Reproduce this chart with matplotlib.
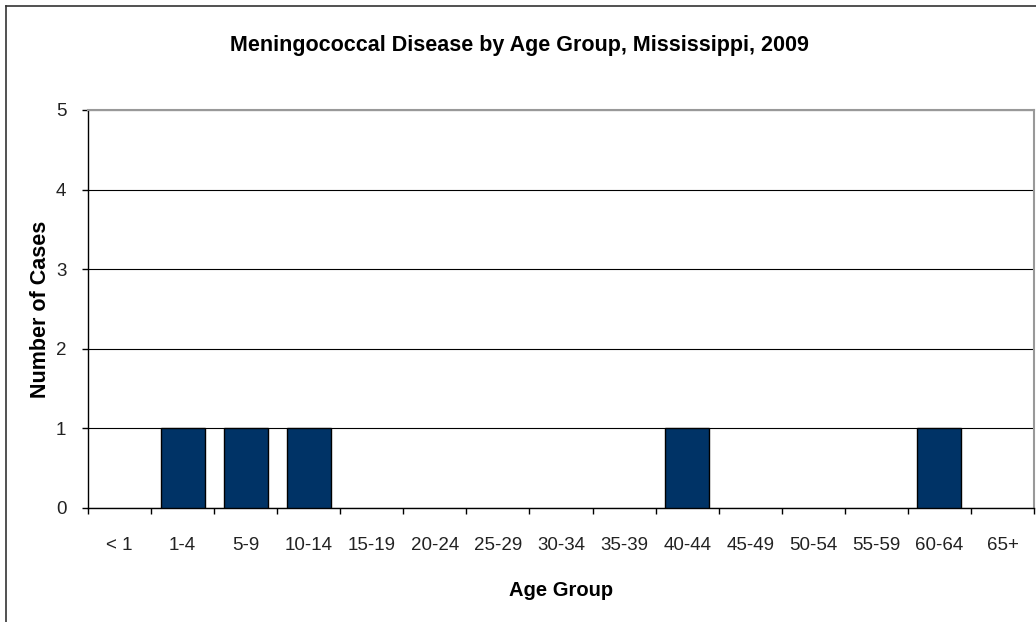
import matplotlib.pyplot as plt
from matplotlib.lines import Line2D

age_groups = ["< 1", "1-4", "5-9", "10-14", "15-19", "20-24", "25-29",
              "30-34", "35-39", "40-44", "45-49", "50-54", "55-59", "60-64", "65+"]
cases = [0, 1, 1, 1, 0, 0, 0, 0, 0, 1, 0, 0, 0, 1, 0]

plt.rcParams["font.family"] = ["Liberation Sans", "DejaVu Sans"]

fig = plt.figure(figsize=(10.36, 6.22), dpi=100)
ax = fig.add_axes([88 / 1036, 1 - 508 / 622, (1034 - 88) / 1036, (508 - 110) / 622])

# outer chart border (left and top visible in the reference)
fig.add_artist(Line2D([6 / 1036, 6 / 1036], [0, 1 - 6 / 622], transform=fig.transFigure,
                      color="#333333", lw=1.2))
fig.add_artist(Line2D([6 / 1036, 1], [1 - 6 / 622, 1 - 6 / 622], transform=fig.transFigure,
                      color="#333333", lw=1.2))

x = list(range(len(age_groups)))
ax.bar(x, cases, width=0.7, color="#003366", edgecolor="black",
       linewidth=[1 if c else 0 for c in cases], zorder=3)

ax.set_xlim(-0.5, len(age_groups) - 0.5)
ax.set_ylim(0, 5)
ax.set_yticks(range(6))
ax.yaxis.grid(True, color="black", lw=0.8, zorder=0)
ax.set_xticks(x)
ax.set_xticklabels(age_groups)
ax.set_xticks([i - 0.5 for i in range(len(age_groups) + 1)], minor=True)
ax.tick_params(axis="x", which="major", length=0, pad=21, labelsize=13.5, labelcolor="#222222")
ax.tick_params(axis="x", which="minor", length=4.5, width=1, direction="out")
ax.tick_params(axis="y", length=4.5, width=1, pad=11, labelsize=13.5, labelcolor="#222222")

for side in ["top", "right"]:
    ax.spines[side].set_color("#999999")
    ax.spines[side].set_linewidth(1.5)
for side in ["left", "bottom"]:
    ax.spines[side].set_color("black")
    ax.spines[side].set_linewidth(1)

ax.set_xlabel("Age Group", fontsize=14.5, fontweight="bold")
ax.xaxis.set_label_coords(0.5, (508 - 590) / 398)
ax.xaxis.label.set_va("center")
ax.set_ylabel("Number of Cases", fontsize=15.5, fontweight="bold")
ax.yaxis.set_label_coords((41 - 88) / 946, 0.5)
ax.yaxis.label.set_va("center")
fig.text(519 / 1036, 1 - 45 / 622,
         "Meningococcal Disease by Age Group, Mississippi, 2009",
         ha="center", va="center", fontsize=15.5, fontweight="bold")

plt.savefig("out.png", dpi=100)
